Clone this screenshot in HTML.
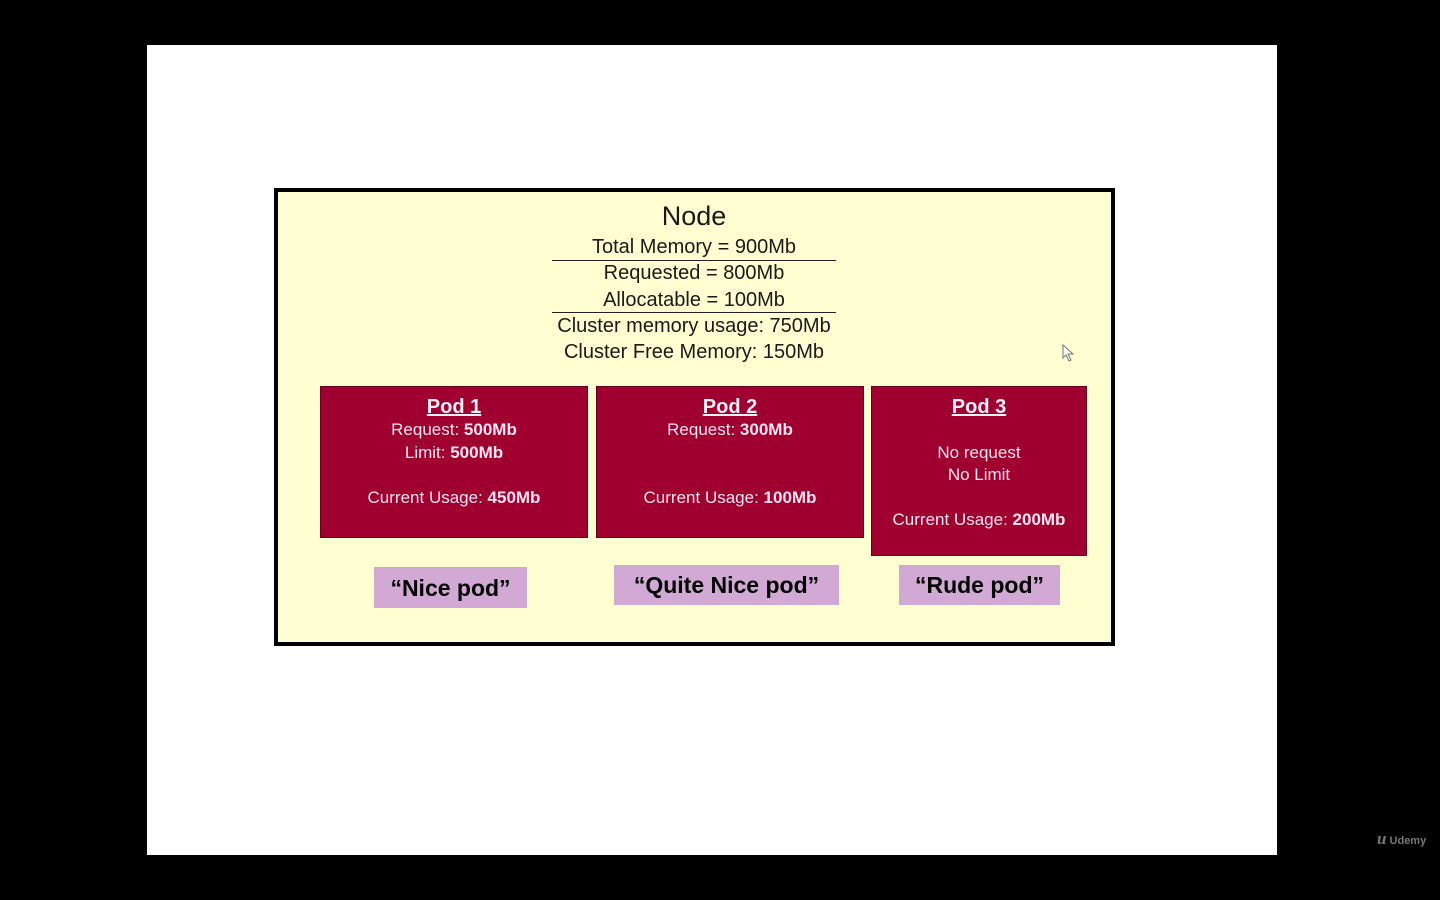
<!DOCTYPE html>
<html><head><meta charset="utf-8"><style>
*{margin:0;padding:0;box-sizing:border-box}
body{width:1440px;height:900px;background:#000;position:relative;overflow:hidden;font-family:"Liberation Sans",sans-serif}
.abs{position:absolute}
.slide{left:147px;top:45px;width:1130px;height:810px;background:#fff}
.node{left:274px;top:188px;width:841px;height:458px;background:#ffffd2;border:4px solid #000}
.t{position:absolute;left:274px;width:840px;text-align:center;color:#1a1a1a;font-size:20px;line-height:24px}
.hr{left:552px;width:284px;height:1px;background:#222}
.pod{background:#a00030;border:1px solid #6a0020;color:#ffe4f0;text-align:center;font-size:17px;line-height:22.5px}
.pod h3{font-size:20px;line-height:24px;text-decoration:underline;font-weight:bold;margin-top:8px;color:#fff0f8}
.lab{background:#d2a8d4;color:#000;font-weight:bold;font-size:23px;text-align:center}
</style></head><body>
<div class="abs slide"></div>
<div class="abs node"></div>
<div class="t" style="top:200px;font-size:27px;line-height:32px">Node</div>
<div class="t" style="top:235px">Total Memory = 900Mb</div>
<div class="abs hr" style="top:260px"></div>
<div class="t" style="top:261px">Requested = 800Mb</div>
<div class="t" style="top:288px">Allocatable = 100Mb</div>
<div class="abs hr" style="top:312px"></div>
<div class="t" style="top:314px">Cluster memory usage: 750Mb</div>
<div class="t" style="top:340px">Cluster Free Memory: 150Mb</div>

<div class="abs pod" style="left:320px;top:386px;width:268px;height:152px"><h3>Pod 1</h3>Request: <b>500Mb</b><br>Limit: <b>500Mb</b><br><br>Current Usage: <b>450Mb</b></div>
<div class="abs pod" style="left:596px;top:386px;width:268px;height:152px"><h3>Pod 2</h3>Request: <b>300Mb</b><br><br><br>Current Usage: <b>100Mb</b></div>
<div class="abs pod" style="left:871px;top:386px;width:216px;height:170px"><h3>Pod 3</h3><br>No request<br>No Limit<br><br>Current Usage: <b>200Mb</b></div>

<div class="abs lab" style="left:374px;top:567px;width:153px;height:41px;line-height:42px">“Nice pod”</div>
<div class="abs lab" style="left:614px;top:565px;width:225px;height:40px;line-height:41px">“Quite Nice pod”</div>
<div class="abs lab" style="left:899px;top:565px;width:161px;height:40px;line-height:41px">“Rude pod”</div>

<svg class="abs" style="left:1062px;top:344px" width="14" height="18"><path d="M1 1 L1 14 L4 11 L7 17 L9 16 L6 10 L11 10 Z" fill="#fff" stroke="#777" stroke-width="1"/></svg>
<div class="abs" style="left:1377px;top:829px;color:#777;font-size:11px;font-weight:bold"><span style="font-size:17px;font-style:italic;font-family:'Liberation Serif',serif">u</span> Udemy</div>
</body></html>
